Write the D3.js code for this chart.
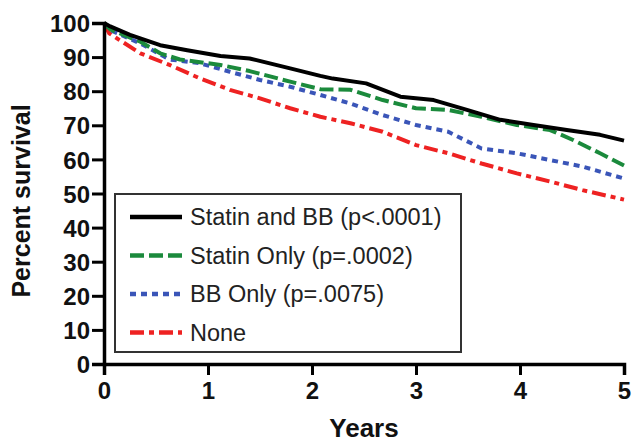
<!DOCTYPE html>
<html>
<head>
<meta charset="utf-8">
<script src="https://cdn.jsdelivr.net/npm/d3@7"></script>
<style>
  body { margin: 0; background: #fff; }
  text { font-family: "Liberation Sans", Arial, sans-serif; }
</style>
</head>
<body>
<div id="plot"></div>
<script>
// survival curves, [years, percent]
const statinBB = [[0,100],[0.06,99],[0.25,96.5],[0.54,93.5],[0.8,92],[1.12,90.3],[1.4,89.6],[1.79,86.7],[2.08,84.5],[2.2,83.7],[2.52,82.3],[2.85,78.4],[3.17,77.4],[3.49,74.5],[3.81,71.6],[4.13,70.1],[4.45,68.6],[4.77,67.2],[5.0,65.5]];
const statinOnly = [[0,100],[0.06,98.1],[0.35,94.5],[0.54,91.1],[0.73,89.3],[1.12,87.7],[1.4,85.9],[1.79,82.8],[2.08,80.6],[2.37,80.4],[2.68,77.4],[3.0,75],[3.31,74.5],[3.63,72.5],[3.97,70.1],[4.29,68.6],[4.51,65.7],[4.77,61.8],[5.0,58.2]];
const bbOnly = [[0,100],[0.06,97.9],[0.35,94],[0.63,89.3],[0.92,88.2],[1.21,85.7],[1.5,83.3],[1.79,81.3],[2.08,78.9],[2.37,76.4],[2.68,73],[3.0,70.1],[3.31,68.1],[3.63,63.2],[3.97,61.8],[4.29,59.8],[4.6,57.9],[5.0,54.4]];
const none = [[0,100],[0.05,97],[0.15,95],[0.35,91.1],[0.63,87.7],[0.92,83.8],[1.21,80.4],[1.5,77.9],[1.79,75],[2.08,72.5],[2.37,70.6],[2.68,68.1],[3.0,64.2],[3.31,61.8],[3.63,58.8],[3.97,55.9],[4.29,53.5],[4.6,51],[5.0,48.2]];

const seriesNames = ["Statin and BB (p<.0001)", "Statin Only (p=.0002)", "BB Only (p=.0075)", "None"];
const xTicks = [0, 1, 2, 3, 4, 5];
const yTicks = [0, 10, 20, 30, 40, 50, 60, 70, 80, 90, 100];

const margin = {top: 23, right: 10, bottom: 80, left: 104},
      width = 634 - margin.left - margin.right,
      height = 444 - margin.top - margin.bottom;

const svg = d3.select("#plot")
    .append("svg")
    .attr("width", 634)
    .attr("height", 444)
  .append("g")
    .attr("transform", `translate(${margin.left},${margin.top})`);

const x = d3.scaleLinear().domain([0, 5]).range([0, 520]);
const y = d3.scaleLinear().domain([0, 100]).range([height, 0]);

const styles = [
  {color: "#000000", dash: null, w: 4},
  {color: "#1b8a3c", dash: "14,5", w: 4},
  {color: "#3a55b8", dash: "6,5", w: 4},
  {color: "#ee2222", dash: "14,5,5,5", w: 4}
];
const allSeries = [statinBB, statinOnly, bbOnly, none];

const line = d3.line()
    .x(d => x(d[0]))
    .y(d => y(d[1]));

// draw bottom series first so black ends on top
[3, 2, 1, 0].forEach(i => {
  svg.append("path")
      .datum(allSeries[i])
      .attr("fill", "none")
      .attr("stroke", styles[i].color)
      .attr("stroke-width", styles[i].w)
      .attr("stroke-dasharray", styles[i].dash)
      .attr("stroke-linejoin", "round")
      .attr("d", line);
});

// axes
const xAxis = svg.append("g")
    .attr("transform", `translate(0,${height})`)
    .call(d3.axisBottom(x).tickValues(xTicks).tickSize(11).tickPadding(7).tickFormat(d3.format("d")));
const yAxis = svg.append("g")
    .call(d3.axisLeft(y).tickValues(yTicks).tickSize(12).tickPadding(2));

[xAxis, yAxis].forEach(a => {
  a.select(".domain").attr("stroke", "#000").attr("stroke-width", 3.5);
  a.selectAll(".tick line").attr("stroke", "#000").attr("stroke-width", 3);
  a.selectAll(".tick text")
      .attr("fill", "#111")
      .style("font-size", "24px")
      .style("font-weight", "bold")
      .style("font-family", "'Liberation Sans', Arial, sans-serif");
});
yAxis.selectAll(".tick text").attr("dy", "0.36em");

// axis titles
svg.append("text")
    .attr("x", 260)
    .attr("y", height + 73)
    .attr("text-anchor", "middle")
    .style("font-size", "26px")
    .style("font-weight", "bold")
    .attr("fill", "#111")
    .text("Years");

svg.append("text")
    .attr("transform", `translate(${30 - margin.left},${201 - margin.top}) rotate(-90)`)
    .attr("text-anchor", "middle")
    .style("font-size", "25px")
    .style("font-weight", "bold")
    .attr("fill", "#111")
    .text("Percent survival");

// legend
const legend = svg.append("g")
    .attr("transform", `translate(${115 - margin.left},${194 - margin.top})`);

legend.append("rect")
    .attr("width", 346)
    .attr("height", 158)
    .attr("fill", "#fff")
    .attr("stroke", "#333")
    .attr("stroke-width", 2);

seriesNames.forEach((name, i) => {
  const ry = 23 + i * 38.5;
  legend.append("line")
      .attr("x1", 15).attr("x2", 67)
      .attr("y1", ry).attr("y2", ry)
      .attr("stroke", styles[i].color)
      .attr("stroke-width", styles[i].w + 0.5)
      .attr("stroke-dasharray", styles[i].dash);
  legend.append("text")
      .attr("x", 75)
      .attr("y", ry)
      .attr("dy", "0.36em")
      .style("font-size", "23.5px")
      .attr("fill", "#222")
      .text(name);
});
</script>
</body>
</html>
